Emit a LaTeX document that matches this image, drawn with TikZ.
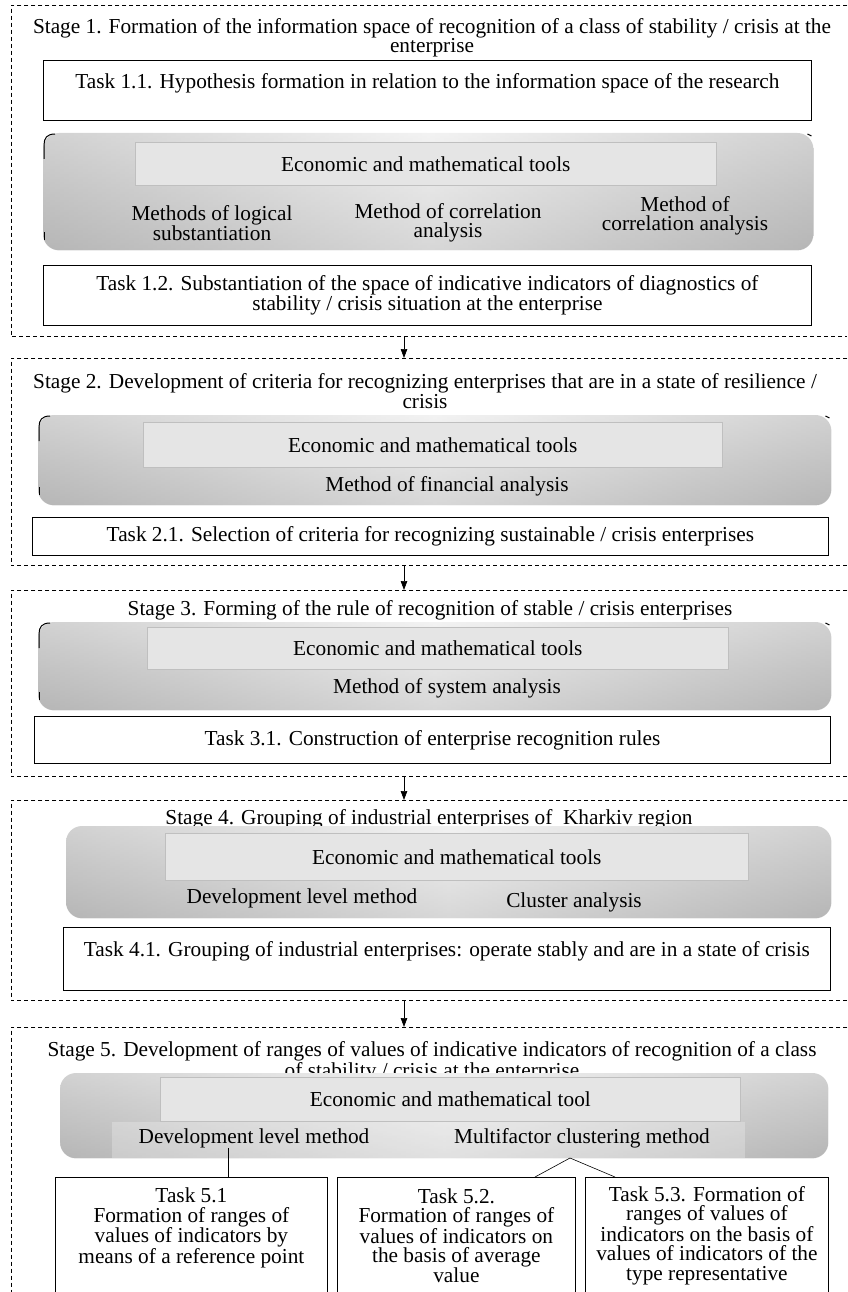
\documentclass[tikz,border=0pt]{standalone}
\usepackage{fontspec}
\setmainfont{Liberation Serif}
\usetikzlibrary{arrows.meta}
\begin{document}
\begin{tikzpicture}[x=1pt,y=-1pt,
  txt/.style={font=\fontsize{21.3}{19.5}\selectfont, align=center, inner sep=0pt},
  stageline/.style={dash pattern=on 4pt off 3pt, line width=0.6pt},
  frame/.style={draw=none, inner sep=0pt, anchor=north west},
  taskbox/.style={txt, draw, line width=0.8pt, fill=white, anchor=north west},
  gbox/.style={rounded corners=16pt, inner sep=0pt, anchor=north west, top color=gray!6, bottom color=gray!42},
  gover/.style={rounded corners=16pt, left color=gray!80, right color=gray!80, middle color=gray!15, opacity=0.4},
  innerbox/.style={txt, draw=gray!50, fill=gray!20, line width=0.6pt, anchor=north west},
  cornermark/.style={line width=1pt, black},
  conn/.style={line width=0.7pt, -{Triangle[length=9pt,width=6.5pt]}},
  link/.style={line width=0.6pt}
]
\useasboundingbox (0,0) rectangle (847,1292);
\fill[white] (0,0) rectangle (847,1292);

% ---------- stage frames ----------
\node[frame, minimum width=836pt, minimum height=331pt] (s1) at (11,5) {};
\node[frame, minimum width=836pt, minimum height=207pt] (s2) at (11,358) {};
\node[frame, minimum width=836pt, minimum height=186pt] (s3) at (11,590) {};
\node[frame, minimum width=836pt, minimum height=200pt] (s4) at (11,800) {};
\node[frame, minimum width=836pt, minimum height=265pt] (s5) at (11,1027) {};
\foreach \s in {s1,s2,s3,s4}
  \draw[stageline] (\s.north east) -- (\s.north west) -- (\s.south west) -- (\s.south east);
\draw[stageline] (s5.north east) -- (s5.north west) -- (s5.south west);

% ---------- stage titles ----------
\node[txt] (st1) at (432,38) {Stage 1. Formation of the information space of recognition of a class of stability / crisis at the\\enterprise};
\node[txt] (st2) at (425,391) {Stage 2. Development of criteria for recognizing enterprises that are in a state of resilience /\\crisis};
\node[txt] (st3) at (430,610) {Stage 3. Forming of the rule of recognition of stable / crisis enterprises};
\node[txt] (st4) at (429,819) {Stage 4. Grouping of industrial enterprises of~ Kharkiv region};
\node[txt] (st5) at (432,1062) {Stage 5. Development of ranges of values of indicative indicators of recognition of a class\\of stability / crisis at the enterprise};

% ---------- stage 1 ----------
\node[taskbox, minimum width=768pt, minimum height=60pt] (t11) at (43,60) {Task 1.1. Hypothesis formation in relation to the information space of the research\\\mbox{}};
\node[gbox, minimum width=770pt, minimum height=117pt] (g1) at (43,133) {};
\shade[gover] (g1.north west) rectangle (g1.south east);
\node[innerbox, minimum width=581pt, minimum height=43pt] (i1) at (135,142) {Economic and mathematical tools};
\node[txt] (m11) at (212,223) {Methods of logical\\substantiation};
\node[txt] (m12) at (448,223) {Method of correlation\\analysis};
\node[txt] (m13) at (685,216) {Method of\\correlation analysis};
\node[taskbox, minimum width=768pt, minimum height=60pt] (t12) at (43,265) {Task 1.2. Substantiation of the space of indicative indicators of diagnostics of\\stability / crisis situation at the enterprise};

% ---------- stage 2 ----------
\node[gbox, minimum width=793pt, minimum height=90pt] (g2) at (38,415) {};
\shade[gover] (g2.north west) rectangle (g2.south east);
\node[innerbox, minimum width=579pt, minimum height=45pt] (i2) at (143,422) {Economic and mathematical tools};
\node[txt] (m21) at (447,486) {Method of financial analysis};
\node[taskbox, minimum width=796pt, minimum height=38pt] (t21) at (32,517) {Task 2.1. Selection of criteria for recognizing sustainable / crisis enterprises};

% ---------- stage 3 ----------
\node[gbox, minimum width=793pt, minimum height=88pt] (g3) at (38,622) {};
\shade[gover] (g3.north west) rectangle (g3.south east);
\node[innerbox, minimum width=581pt, minimum height=42pt] (i3) at (147,627) {Economic and mathematical tools};
\node[txt] (m31) at (447,688) {Method of system analysis};
\node[taskbox, minimum width=796pt, minimum height=47pt] (t31) at (34,716) {Task 3.1. Construction of enterprise recognition rules};

% corner marks on the first three tool panels
\foreach \g in {g1,g2,g3}{
  \draw[cornermark] ([shift={(1pt,-26pt)}]\g.north west) -- ([shift={(1pt,-12pt)}]\g.north west)
     .. controls ([shift={(1pt,-5pt)}]\g.north west) and ([shift={(4pt,-1pt)}]\g.north west) .. ([shift={(12pt,-1pt)}]\g.north west);
  \draw[cornermark] ([shift={(1pt,18pt)}]\g.south west) -- ([shift={(1pt,10pt)}]\g.south west);
  \draw[cornermark] ([shift={(-6pt,-1pt)}]\g.north east) -- ([shift={(-2pt,-3pt)}]\g.north east);
}

% ---------- stage 4 ----------
\node[gbox, minimum width=765pt, minimum height=92pt] (g4) at (66,826) {};
\shade[gover] (g4.north west) rectangle (g4.south east);
\node[innerbox, minimum width=583pt, minimum height=47pt] (i4) at (165,833) {Economic and mathematical tools};
\node[txt] (m41) at (302,898) {Development level method};
\node[txt] (m42) at (574,902) {Cluster analysis};
\node[taskbox, minimum width=767pt, minimum height=63pt] (t41) at (63,927) {Task 4.1. Grouping of industrial enterprises: operate stably and are in a state of crisis\\\mbox{}};

% ---------- stage 5 ----------
\node[gbox, minimum width=768pt, minimum height=85pt] (g5) at (60,1073) {};
\shade[gover] (g5.north west) rectangle (g5.south east);
\fill[white, opacity=0.25] (112,1122) rectangle (745,1158);
\node[innerbox, minimum width=580pt, minimum height=44pt] (i5) at (160,1077) {Economic and mathematical tool};
\node[txt] (m51) at (254,1138) {Development level method};
\node[txt] (m52) at (582,1138) {Multifactor clustering method};

\node[taskbox, minimum width=272pt, minimum height=116pt] (t51) at (55,1177) {Task 5.1\\Formation of ranges of\\values of indicators by\\means of a reference point\\\mbox{}};
\node[taskbox, minimum width=238pt, minimum height=116pt] (t52) at (337,1177) {Task 5.2.\\Formation of ranges of\\values of indicators on\\the basis of average\\value};
\node[taskbox, minimum width=243pt, minimum height=116pt] (t53) at (585,1177) {Task 5.3. Formation of\\ranges of values of\\indicators on the basis of\\values of indicators of the\\type representative};

% ---------- connectors ----------
\coordinate (ax) at (404,0);
\draw[conn] (s1.south -| ax) -- (s2.north -| ax);
\draw[conn] (s2.south -| ax) -- (s3.north -| ax);
\draw[conn] (s3.south -| ax) -- (s4.north -| ax);
\draw[conn] (s4.south -| ax) -- (s5.north -| ax);

\coordinate (d1) at (228,1148);
\draw[link] (d1) -- (d1 |- t51.north);
\coordinate (apex) at (570,1158);
\coordinate (l2) at (535,0);
\coordinate (l3) at (615,0);
\draw[link] (t52.north -| l2) -- (apex) -- (t53.north -| l3);
\end{tikzpicture}
\end{document}
